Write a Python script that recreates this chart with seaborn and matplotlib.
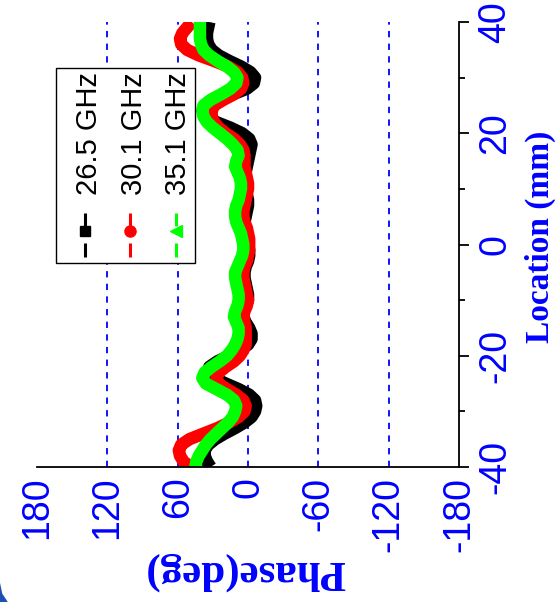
import numpy as np
import pandas as pd
import matplotlib
matplotlib.use("Agg")
import matplotlib.pyplot as plt
import seaborn as sns
from matplotlib import font_manager
from matplotlib.patches import Rectangle, Polygon

# ---------------- data ----------------
location = list(range(-40, 41))  # mm
phase_265 = [32, 35, 37, 37, 34, 28, 20, 11, 3, -3, -6, -7, -6, -1, 8, 19, 29, 34, 33, 26,
             16, 7, 0, -3, -3, -1, 2, 4, 4, 2, 0, 0, 1, 2, 3, 3, 2, 0, -1, -1,
             0,
             1, 2, 3, 3, 2, 1, 0, 0, 1, 2, 3, 3, 2, 1, 0, -1, -2, -3, -1, 5,
             15, 27, 35, 38, 35, 26, 13, 1, -5, -6, -2, 6, 16, 25, 31, 34, 35, 35, 34, 33]
phase_301 = [49, 55, 58, 59, 57, 50, 38, 26, 16, 8, 3, 2, 4, 10, 18, 25, 27, 25, 19, 12,
             7, 4, 2, 2, 2, 2, 3, 4, 3, 1, 0, 1, 2, 3, 4, 4, 3, 1, 0, -1,
             -1,
             -1, 0, 1, 3, 4, 4, 3, 2, 1, 0, 0, 1, 2, 3, 3, 3, 4, 7, 12, 19,
             25, 29, 31, 31, 29, 21, 12, 6, 4, 5, 9, 17, 29, 42, 52, 57, 58, 56, 52, 48]
phase_351 = [45, 44, 42, 39, 36, 32, 27, 22, 17, 13, 11, 10, 12, 18, 27, 36, 39, 37, 31, 24,
             18, 14, 11, 9, 8, 8, 10, 12, 11, 9, 8, 8, 9, 10, 11, 11, 9, 7, 5, 4,
             4,
             5, 6, 8, 10, 11, 11, 10, 8, 7, 6, 6, 7, 9, 11, 10, 8, 9, 13, 18, 24,
             30, 35, 38, 39, 38, 32, 23, 15, 10, 9, 12, 18, 26, 33, 38, 40, 41, 41, 41, 41]
freq_labels = ["26.5 GHz", "30.1 GHz", "35.1 GHz"]
series = [phase_265, phase_301, phase_351]
colors = ["#000000", "#FF0000", "#00FF00"]
markers = ["s", "o", "<"]
phase_ticks = [180, 120, 60, 0, -60, -120, -180]
grid_phase = [120, 60, 0, -60, -120]
loc_ticks = [-40, -20, 0, 20, 40]

rows = []
for lab, vals in zip(freq_labels, series):
    for l, p in zip(location, vals):
        rows.append({"Location": l, "Phase": p, "Freq": lab})
df = pd.DataFrame(rows)

# ---------------- style ----------------
sns.set_style("white")
names = {f.name for f in font_manager.fontManager.ttflist}
narrow = "Liberation Sans Narrow" in names
sans = ["Liberation Sans Narrow", "Liberation Sans", "DejaVu Sans"] if narrow else ["Liberation Sans", "DejaVu Sans"]
plt.rcParams["font.family"] = sans
plt.rcParams["axes.unicode_minus"] = False
tick_fs = 32 if narrow else 27
leg_fs = 25 if narrow else 21
BLUE = "#0000FF"

W, H = 556, 602
fig = plt.figure(figsize=(W / 100, H / 100), dpi=100)
x0, x1, ytop, ybot = 37, 459, 22, 467
ax = fig.add_axes([x0 / W, 1 - ybot / H, (x1 - x0) / W, (ybot - ytop) / H])

for v in grid_phase:
    ax.axvline(v, color=BLUE, lw=1.3, ls=(0, (3.5, 3.5)), zorder=0)

sns.lineplot(data=df, x="Phase", y="Location", hue="Freq", hue_order=freq_labels,
             palette=colors, orient="y", sort=True, estimator=None, lw=9,
             legend=False, ax=ax)
for ln in ax.get_lines():
    ln.set_solid_capstyle("butt")
    ln.set_solid_joinstyle("round")

ax.set_xlim(180, -180)
ax.set_ylim(-40, 40)
ax.set_xticks(phase_ticks)
ax.set_xticklabels([str(t) for t in phase_ticks])
ax.set_xticks([150, 90, 30, -30, -90, -150], minor=True)
ax.set_yticks(loc_ticks)
ax.set_yticklabels([str(t) for t in loc_ticks])
ax.set_yticks([-30, -10, 10, 30], minor=True)
ax.yaxis.tick_right()
ax.yaxis.set_label_position("right")

for s in ["top", "left"]:
    ax.spines[s].set_visible(False)
for s in ["bottom", "right"]:
    ax.spines[s].set_visible(True)
    ax.spines[s].set_color("black")
    ax.spines[s].set_linewidth(1.3)

ax.tick_params(axis="both", which="major", direction="out", length=7, width=1.3,
               color="black", labelcolor=BLUE, labelsize=tick_fs)
ax.tick_params(axis="both", which="minor", direction="out", length=4, width=1.3, color="black")
ax.tick_params(axis="x", pad=0)
ax.tick_params(axis="y", pad=6, right=True, left=False)
for t in ax.get_xticklabels():
    t.set_rotation(90)
for t in ax.get_yticklabels():
    t.set_rotation(90)
    t.set_va("center")

ax.set_xlabel("Phase(deg)", family=["Liberation Serif"], fontweight="bold",
              fontsize=31, color=BLUE, rotation=180, va="center", ha="center")
ax.xaxis.set_label_coords((245 - x0) / (x1 - x0), (ybot - 571) / (ybot - ytop))
ax.set_ylabel("Location (mm)", family=["Liberation Serif"], fontweight="bold",
              fontsize=24, color=BLUE, rotation=90, va="center", ha="center")
ax.yaxis.set_label_coords((540 - x0) / (x1 - x0), (ybot - 237) / (ybot - ytop))

# ---------------- legend (rotated with the chart) ----------------
def fx(px):
    return (px - x0) / (x1 - x0)

def fy(py):
    return (ybot - py) / (ybot - ytop)

ax.add_patch(Rectangle((fx(56), fy(263)), fx(195) - fx(56), fy(68) - fy(263),
                       transform=ax.transAxes, facecolor="white", edgecolor="black",
                       lw=1.0, zorder=5))
hx = [85, 130, 176]
tx = [97, 141.5, 186]
for lab, c, m, h, t in zip(freq_labels, colors, markers, hx, tx):
    ax.plot([fx(h), fx(h)], [fy(213), fy(226)], transform=ax.transAxes, color=c, lw=2.2,
            solid_capstyle="butt", zorder=6)
    ax.plot([fx(h), fx(h)], [fy(243), fy(257)], transform=ax.transAxes, color=c, lw=2.2,
            solid_capstyle="butt", zorder=6)
    ax.plot([fx(h)], [fy(231)], transform=ax.transAxes, color=c, marker=m,
            markersize=7.5 if m == "s" else 8, zorder=7, clip_on=False)
    ax.text(fx(t), fy(195), lab, transform=ax.transAxes, rotation=90,
            rotation_mode="anchor", ha="left", va="baseline", fontsize=leg_fs,
            color="black", zorder=8)

# slide corner decoration (bottom-left)
fig.add_artist(Polygon([[0, 0], [0, 0.032], [0.004, 0.014], [0.014, 0]], closed=True,
                       transform=fig.transFigure, facecolor="#1f4fb0", edgecolor="none"))

fig.savefig("out.png", dpi=100)
